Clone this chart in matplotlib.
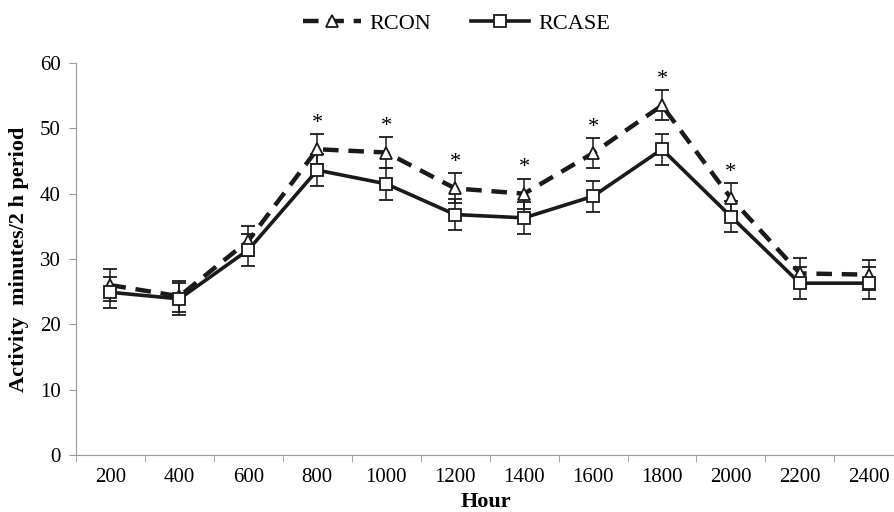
import numpy as np
import matplotlib
matplotlib.use('Agg')
import matplotlib.pyplot as plt
from matplotlib.lines import Line2D

plt.rcParams['font.family'] = ['Liberation Serif', 'DejaVu Serif']

hours = ['200', '400', '600', '800', '1000', '1200', '1400', '1600', '1800', '2000', '2200', '2400']
rcon = [26.0, 24.3, 32.8, 46.8, 46.3, 40.8, 40.0, 46.2, 53.5, 39.3, 27.8, 27.6]
rcon_err = [2.4, 2.4, 2.3, 2.3, 2.4, 2.3, 2.3, 2.3, 2.3, 2.3, 2.3, 2.3]
rcase = [24.9, 23.9, 31.4, 43.6, 41.5, 36.8, 36.3, 39.6, 46.8, 36.5, 26.3, 26.3]
rcase_err = [2.4, 2.4, 2.5, 2.4, 2.4, 2.4, 2.4, 2.4, 2.4, 2.4, 2.4, 2.4]
signif = [False, False, False, True, True, True, True, True, True, True, False, False]

fig = plt.figure(figsize=(8.95, 5.12), dpi=100)
ax = fig.add_axes([76 / 895, 1 - 455 / 512, 819 / 895, 392 / 512])

dash = (0, (3.5, 2.2))
x = np.arange(len(hours))
ax.errorbar(x, rcon, yerr=rcon_err, color='#1a1a1a', lw=3.2, ls=dash,
            marker='^', ms=9, mfc='white', mec='#1a1a1a', mew=1.3,
            ecolor='#1a1a1a', elinewidth=1.1, capsize=5, capthick=1.1)
ax.errorbar(x, rcase, yerr=rcase_err, color='#1a1a1a', lw=2.6, ls='-',
            marker='s', ms=9, mfc='white', mec='#1a1a1a', mew=1.3,
            ecolor='#1a1a1a', elinewidth=1.1, capsize=5, capthick=1.1)

for i in range(len(hours)):
    if signif[i]:
        ax.text(x[i], rcon[i] + rcon_err[i] + 0.2, '*', ha='center', va='bottom', fontsize=16)

ax.set_xlim(-0.5, len(hours) - 0.62)
ax.set_ylim(0, 60)
ax.set_yticks(range(0, 61, 10))
ax.set_xticks(x)
ax.set_xticklabels(hours)
ax.set_xticks(np.arange(-0.5, len(hours) - 0.6, 1), minor=True)
ax.tick_params(axis='x', which='major', length=0, labelsize=15, pad=9)
ax.tick_params(axis='x', which='minor', length=5, color='#999999')
ax.tick_params(axis='y', length=5, color='#999999', labelsize=15, pad=6)

for s in ['top', 'right']:
    ax.spines[s].set_visible(False)
for s in ['left', 'bottom']:
    ax.spines[s].set_color('#999999')

ax.set_xlabel('Hour', fontsize=16, fontweight='bold', labelpad=4)
ax.set_ylabel('Activity  minutes/2 h period', fontsize=16, fontweight='bold', labelpad=8)

handles = [
    Line2D([], [], color='#1a1a1a', lw=3.2, ls=dash, marker='^', ms=8,
           mfc='white', mec='#1a1a1a', mew=1.3),
    Line2D([], [], color='#1a1a1a', lw=2.6, ls='-', marker='s', ms=8,
           mfc='white', mec='#1a1a1a', mew=1.3),
]
fig.legend(handles, ['RCON', 'RCASE'], loc='upper center', bbox_to_anchor=(0.51, 1.013),
           ncol=2, frameon=False, fontsize=16, handlelength=2.6, columnspacing=1.8,
           handletextpad=0.4)

fig.savefig('out.png', dpi=100)
